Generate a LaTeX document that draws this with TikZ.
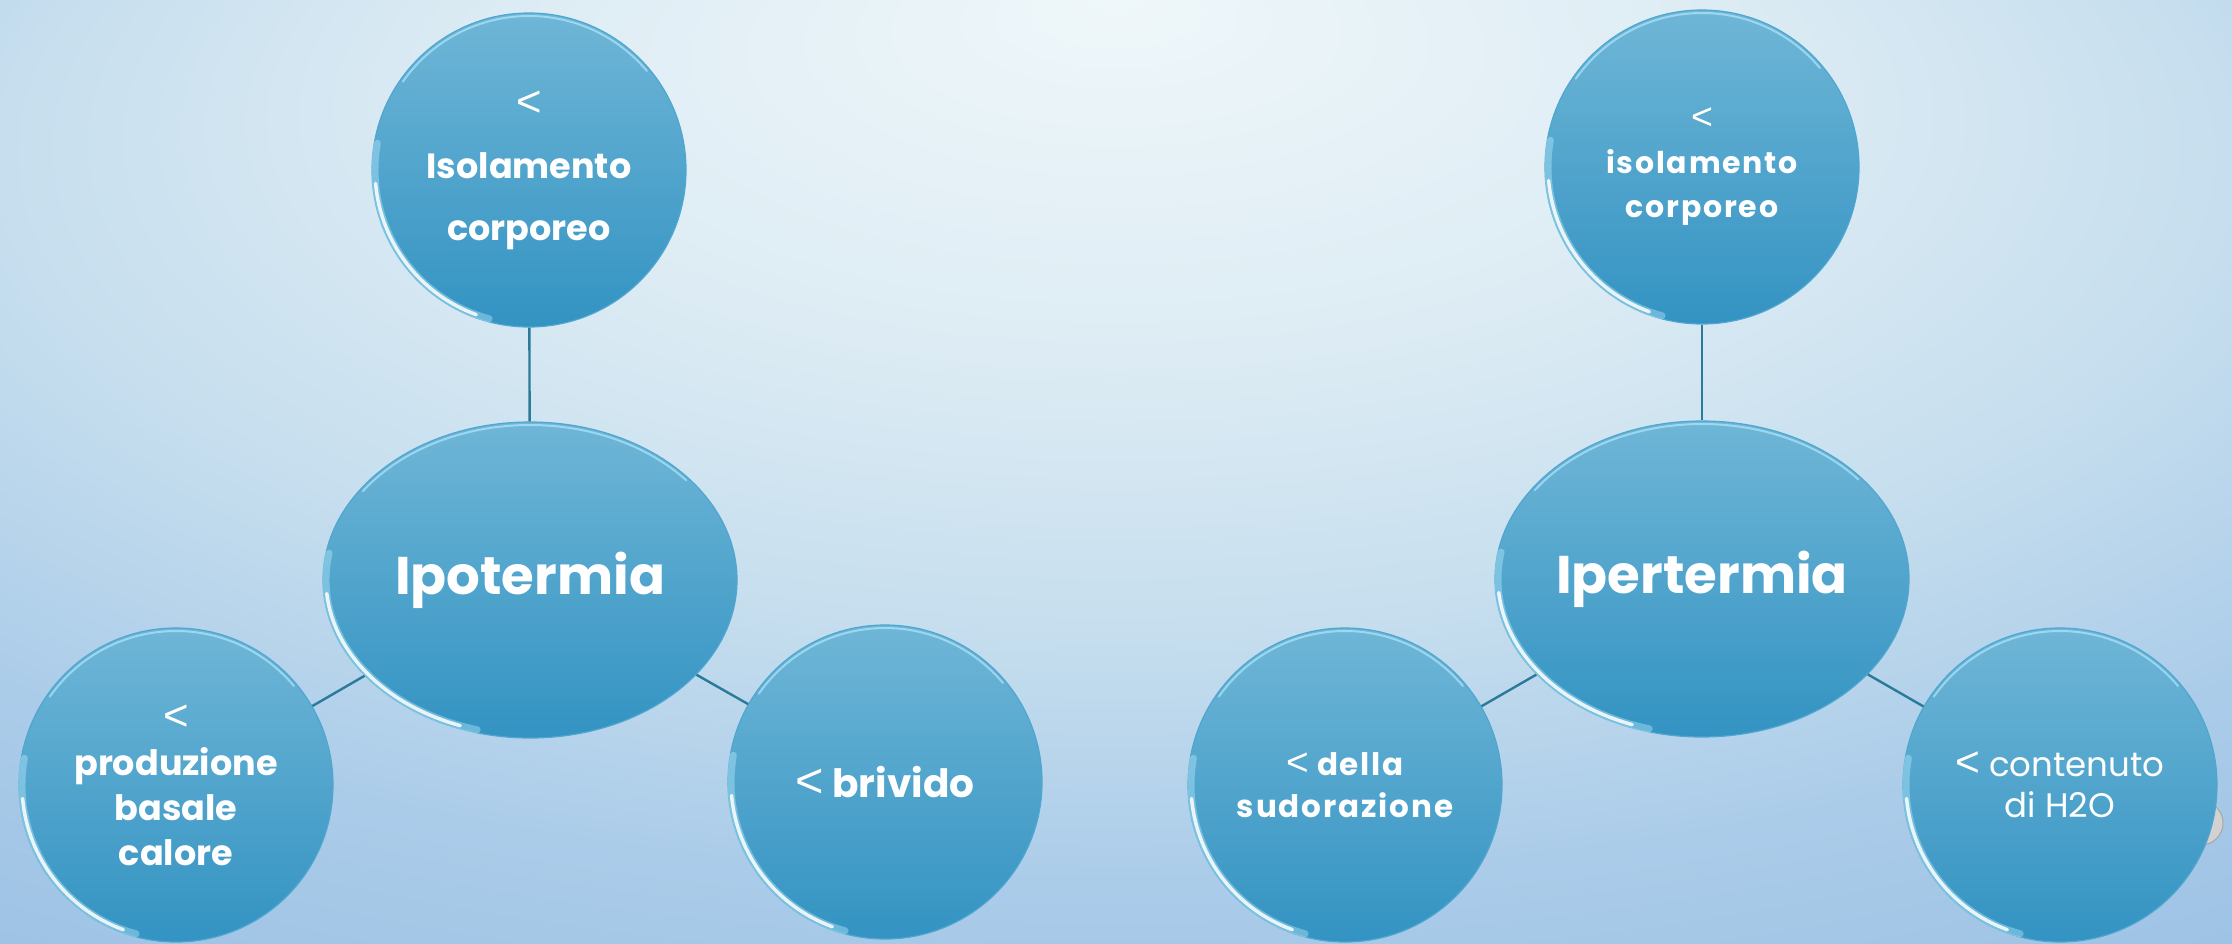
\documentclass[tikz,border=0pt]{standalone}
\usepackage{fontspec}
\setmainfont{Poppins}
\newfontfamily\spacedfont{Poppins}[LetterSpace=6]
\newfontfamily\lessfont{Liberation Sans}[Scale=1.25]
\usetikzlibrary{shapes.geometric}

\definecolor{bgA}{HTML}{EFF7FA}
\definecolor{bgA2}{HTML}{DDECF4}
\definecolor{bgB}{HTML}{C6DEEE}
\definecolor{bgC}{HTML}{ABCCE9}
\definecolor{bgD}{HTML}{95BCE2}
\definecolor{bgE}{HTML}{86B1DD}
\definecolor{bubT}{HTML}{6FB6D7}
\definecolor{bubB}{HTML}{3393C2}
\definecolor{bubE}{HTML}{4FA6D0}
\definecolor{linkc}{HTML}{2A7A99}
\definecolor{glow}{HTML}{BDEFFF}

% soft slide background, brightest at the top centre
\pgfdeclareradialshading{slidebg}{\pgfpoint{0bp}{25bp}}{%
  color(0bp)=(bgA); color(14bp)=(bgA2); color(25bp)=(bgB); color(35bp)=(bgC);
  color(50bp)=(bgD); color(56bp)=(bgE); color(75bp)=(bgE)}

% thin "less than" sign as drawn in the bubbles
\newcommand\lt{{\lessfont\mdseries<}}

\tikzset{
  bubble/.style={circle, minimum size=314pt, inner sep=0pt,
    top color=bubT, bottom color=bubB, draw=bubE, line width=1.2pt,
    text=white, align=center},
  hub/.style={bubble, ellipse, minimum width=414pt, minimum height=316pt,
    font=\bfseries\fontsize{53}{64}\selectfont},
  link/.style={draw=linkc, line width=2.4pt},
  rimlight/.style={draw=white, line width=3.5pt, line cap=round, opacity=0.85},
  rimsoft/.style={draw=glow, line width=7pt, line cap=round, opacity=0.4},
  rimtop/.style={draw=glow, line width=2pt, line cap=round, opacity=0.6},
}

% glossy rim along the edge of a bubble
\newcommand\rimglow[3]{%
  \draw[rimsoft] ([shift={(170:#2 and #3)}]#1.center)
    arc[start angle=170, end angle=255, x radius=#2, y radius=#3];
  \draw[rimlight] ([shift={(185:#2 and #3)}]#1.center)
    arc[start angle=185, end angle=250, x radius=#2, y radius=#3];
  \draw[rimtop] ([shift={(40:#2 and #3)}]#1.center)
    arc[start angle=40, end angle=145, x radius=#2, y radius=#3];
}

\begin{document}
\begin{tikzpicture}[x=1pt,y=1pt]
  \useasboundingbox (0,-943) rectangle (2232,0);
  \shade[shading=slidebg] (0,-943) rectangle (2232,0);

  % Ipotermia
  \node[hub] (ipo) at (530,-580) {Ipotermia};
  \node[bubble, font=\bfseries\fontsize{35}{62}\selectfont] (isoA) at (529,-170)
    {\lt\\Isolamento\\corporeo};
  \node[bubble, font=\bfseries\fontsize{35}{45}\selectfont] (prod) at (176,-785)
    {\lt\\produzione\\basale\\calore};
  \node[bubble, font=\bfseries\fontsize{39}{48}\selectfont] (briv) at (885,-782)
    {\lt{} brivido};

  % Ipertermia
  \node[hub] (iper) at (1702,-579) {Ipertermia};
  \node[bubble, font=\spacedfont\bfseries\fontsize{30}{44}\selectfont] (isoB) at (1702,-167)
    {\lt\\isolamento\\corporeo};
  \node[bubble, font=\spacedfont\bfseries\fontsize{31}{42}\selectfont] (sudo) at (1345,-785)
    {\lt{} della\\sudorazione};
  \node[circle, minimum size=44pt, inner sep=0pt, fill=gray!35, draw=gray!70,
    line width=1pt] (knob) at (2201,-823) {};
  \node[bubble, font=\fontsize{34}{41}\selectfont] (acqua) at (2060,-785)
    {\lt{} contenuto\\di H2O};

  % connectors
  \draw[link] (isoA) -- (ipo);
  \draw[link] (prod) -- (ipo);
  \draw[link] (briv) -- (ipo);
  \draw[link] (isoB) -- (iper);
  \draw[link] (sudo) -- (iper);
  \draw[link] (acqua) -- (iper);

  % glossy rims
  \rimglow{isoA}{154pt}{154pt}
  \rimglow{prod}{154pt}{154pt}
  \rimglow{briv}{154pt}{154pt}
  \rimglow{isoB}{154pt}{154pt}
  \rimglow{sudo}{154pt}{154pt}
  \rimglow{acqua}{154pt}{154pt}
  \rimglow{ipo}{204pt}{155pt}
  \rimglow{iper}{204pt}{155pt}
\end{tikzpicture}
\end{document}
